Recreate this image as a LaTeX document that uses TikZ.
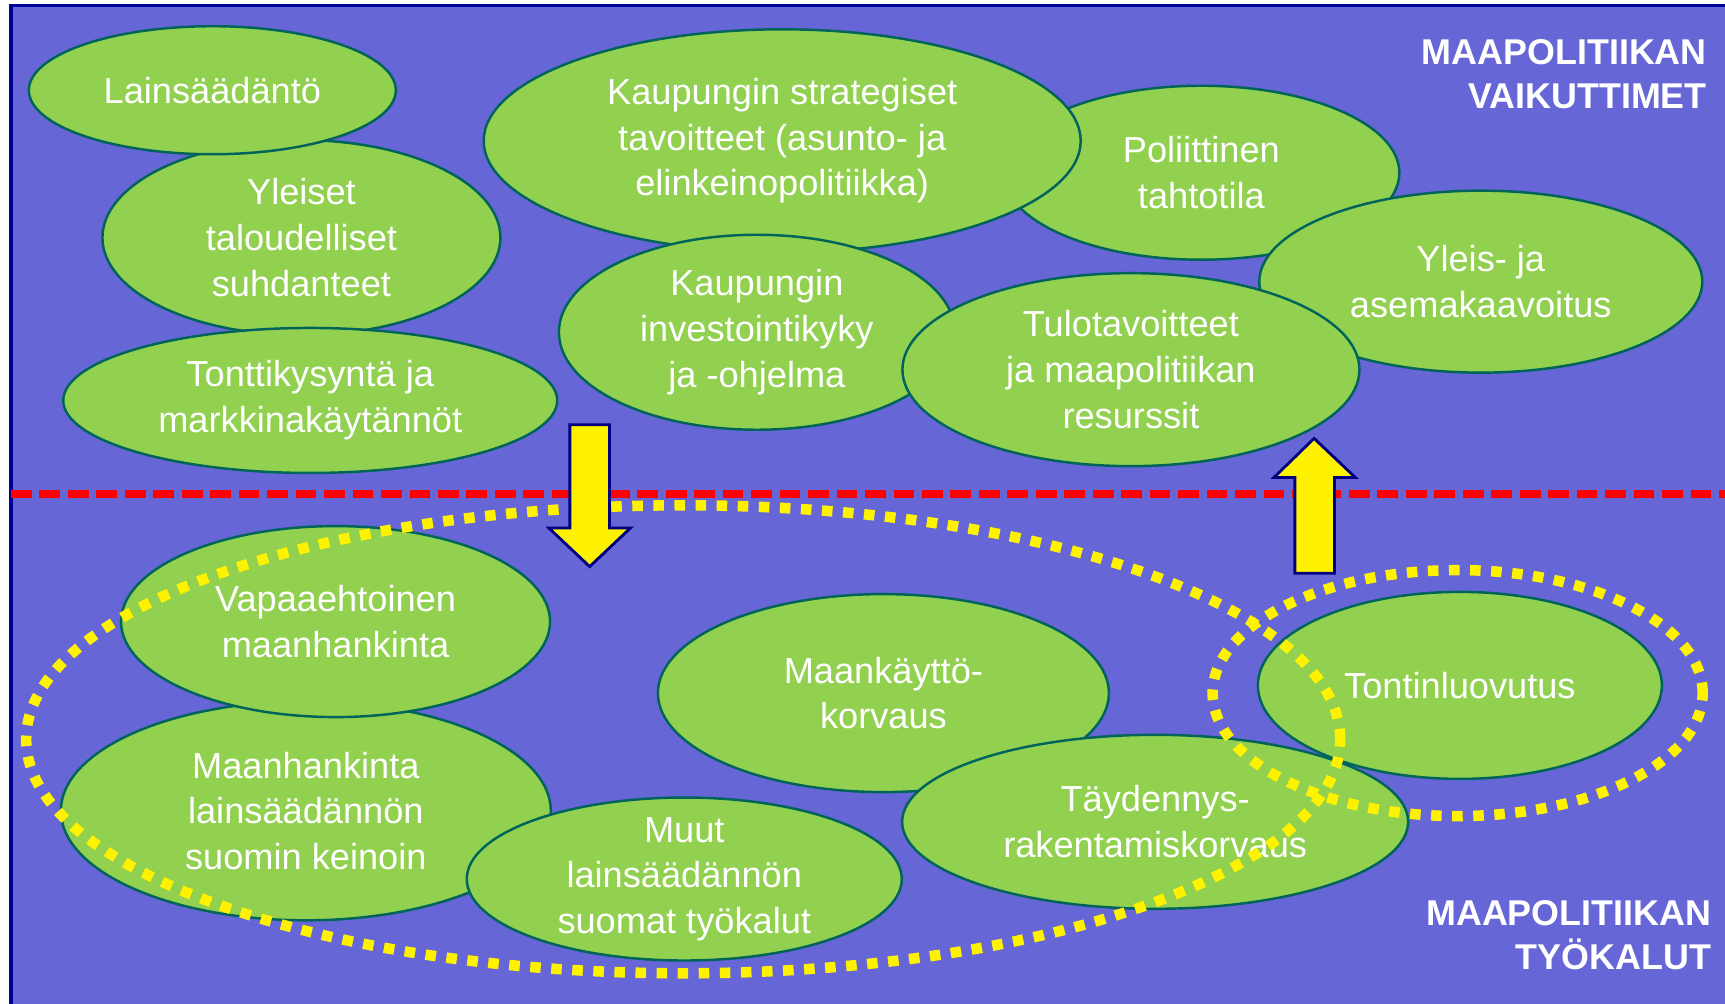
\documentclass[tikz,border=0pt]{standalone}
\usepackage{fontspec}
\setmainfont{Liberation Sans}
\usetikzlibrary{shapes.geometric}
\definecolor{slide blue}{RGB}{102,102,214}
\definecolor{slide navy}{RGB}{0,0,150}
\definecolor{blob green}{RGB}{146,208,80}
\definecolor{blob line}{RGB}{0,100,90}
\definecolor{arrow navy}{RGB}{0,0,128}
\tikzset{
    % Ellipses with text
    blob/.style={ellipse,draw=blob line,fill=blob green,line width=.7pt,
        inner sep=-5mm,text=white,align=center,
        font=\fontsize{10.3}{13}\selectfont},
    heading/.style={text=white,align=right,inner sep=0pt,anchor=north east,
        font=\fontsize{10.2}{12.5}\selectfont\bfseries},
    %
    % Lines
    divider/.style={red,line width=2.1pt,dash pattern=on 5.9pt off 2.2pt},
    dotted ring/.style={yellow,line width=3pt,dash pattern=on 3pt off 3pt},
    block arrow/.style={fill=yellow,draw=arrow navy,line width=.8pt,line join=miter}
}

\begin{document}
\begin{tikzpicture}[x=0.011cm,y=-0.011cm]
        \useasboundingbox (0,0) rectangle (1568,912);
        \draw[draw=slide navy,fill=slide blue,line width=1pt] (10,5) rectangle (1580,925);
        \draw[divider] (10,449) -- (1568,449);

        % Vaikuttimet
        \node[blob,minimum width=3.98cm,minimum height=1.95cm] (suhdanteet) at (274,216) {Yleiset\\taloudelliset\\suhdanteet};
        \node[blob,minimum width=3.67cm,minimum height=1.28cm] (laki) at (193,82) {Lainsäädäntö};
        \node[blob,minimum width=4.94cm,minimum height=1.45cm] (kysynta) at (282,364) {Tonttikysyntä ja\\markkinakäytännöt};
        \node[blob,minimum width=3.96cm,minimum height=1.74cm] (tahtotila) at (1092,157) {Poliittinen\\tahtotila};
        \node[blob,minimum width=5.97cm,minimum height=2.23cm] (strategia) at (711,128) {Kaupungin strategiset\\tavoitteet (asunto- ja\\elinkeinopolitiikka)};
        \node[blob,minimum width=4.43cm,minimum height=1.82cm] (kaavoitus) at (1346,256) {Yleis- ja\\asemakaavoitus};
        \node[blob,minimum width=3.96cm,minimum height=1.95cm] (investointi) at (688,302) {Kaupungin\\investointikyky\\ja -ohjelma};
        \node[blob,minimum width=4.57cm,minimum height=1.93cm] (tulot) at (1028,336) {Tulotavoitteet\\ja maapolitiikan\\resurssit};

        % Ty\"okalut
        \node[blob,minimum width=4.9cm,minimum height=2.19cm] (pakko) at (278,737) {Maanhankinta\\lainsäädännön\\suomin keinoin};
        \node[blob,minimum width=4.29cm,minimum height=1.91cm] (vapaa) at (305,565) {Vapaaehtoinen\\maanhankinta};
        \node[blob,minimum width=4.35cm,minimum height=1.63cm] (muut) at (622,799) {Muut\\lainsäädännön\\suomat työkalut};
        \node[blob,minimum width=4.51cm,minimum height=1.98cm] (mkkorvaus) at (803,630) {Maankäyttö-\\korvaus};
        \node[blob,minimum width=5.06cm,minimum height=1.74cm] (taydennys) at (1050,747) {Täydennys-\\rakentamiskorvaus};
        \node[blob,minimum width=4.04cm,minimum height=1.87cm] (luovutus) at (1327,623) {Tontinluovutus};

        \draw[dotted ring] (621,672) ellipse [x radius=6.57cm,y radius=2.34cm];
        \draw[dotted ring] (1325,630) ellipse [x radius=2.45cm,y radius=1.23cm];

        \draw[block arrow] (518,386) -- (554,386) -- (554,480) -- (573,480) -- (536,515) -- (499,480) -- (518,480) -- cycle;
        \draw[block arrow] (1177,521) -- (1213,521) -- (1213,434) -- (1232,434) -- (1194.5,398.5) -- (1158,434) -- (1177,434) -- cycle;

        \node[heading] (vaikuttimet) at (1552,35.5) {MAAPOLITIIKAN\\VAIKUTTIMET};
        \node[heading] (tyokalut) at (1556,818) {MAAPOLITIIKAN\\TYÖKALUT};
    \end{tikzpicture}
\end{document}
